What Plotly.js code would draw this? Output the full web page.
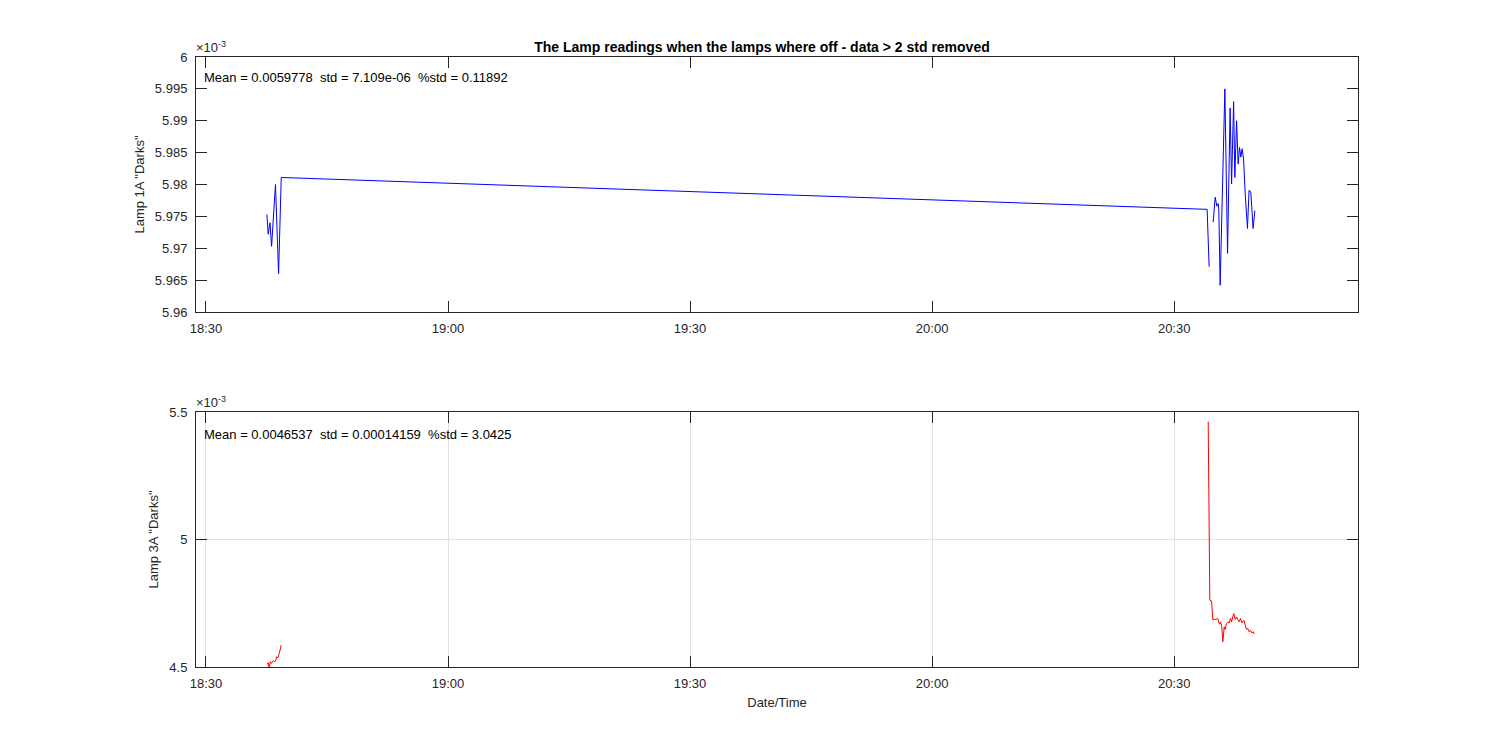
<!DOCTYPE html>
<html>
<head>
<meta charset="utf-8">
<script src="https://cdn.plot.ly/plotly-3.0.1.min.js"></script>
<style>html,body{margin:0;padding:0;background:#fff;}#chart{width:1500px;height:750px;}</style>
</head>
<body>
<div id="chart"></div>
<script>
// ---- data ----
const day = '2000-01-01 ';

// Lamp 1A "Darks" (top panel)
const lamp1aTimes = [
  '18:37:33','18:37:43','18:37:56','18:38:08','18:38:37','18:39:00','18:39:20',
  '20:34:05','20:34:20','20:34:35',
  '20:34:50','20:35:05','20:35:17','20:35:27','20:35:32','20:35:42','20:36:17','20:36:37',
  '20:36:56','20:37:07','20:37:22','20:37:31','20:37:44','20:37:56','20:38:06','20:38:16',
  '20:38:25','20:38:36','20:38:49','20:39:05','20:39:17','20:39:30','20:39:47','20:40:00'
];
const lamp1aValues = [
  0.0059753,0.0059722,0.0059740,0.0059703,0.0059800,0.0059660,0.0059811,
  0.0059761,0.0059671,null,
  0.0059741,0.0059780,0.0059766,0.0059770,0.0059761,0.0059642,0.0059950,0.0059692,
  0.0059920,0.0059801,0.0059930,0.0059811,0.0059900,0.0059832,0.0059858,0.0059843,
  0.0059856,0.0059840,0.0059783,0.0059731,0.0059791,0.0059788,0.0059731,0.0059759
];

// Lamp 3A "Darks" (bottom panel); null = removed samples (gap)
const lamp3aTimes = [
  '18:37:35','18:37:43','18:37:50','18:37:59','18:38:06','18:38:21','18:38:29','18:38:40',
  '18:38:45','18:38:55','18:39:05','18:39:20',
  '19:30:00',
  '20:34:13','20:34:25','20:34:38','20:34:47','20:35:12','20:35:24','20:35:37','20:35:45',
  '20:35:54','20:36:02','20:36:12','20:36:19','20:36:29','20:36:39','20:36:49','20:36:59',
  '20:37:06','20:37:16','20:37:23','20:37:34','20:37:44','20:37:53','20:38:03','20:38:13',
  '20:38:23','20:38:38','20:38:48','20:38:58','20:39:08','20:39:18','20:39:28','20:39:37',
  '20:39:48','20:39:57'
];
const lamp3aValues = [
  0.004510,0.004517,0.004495,0.004521,0.004514,0.004525,0.004520,0.004527,
  0.004540,0.004536,0.004553,0.004586,
  null,
  0.0054621,0.0047617,0.0047590,0.0046863,0.0046875,0.0046902,0.0046680,0.0046770,
  0.0046574,0.0045988,0.0046574,0.0046473,0.0046707,0.0046758,0.0046730,0.0046902,
  0.0046770,0.0046992,0.0047098,0.0046863,0.0046965,0.0046863,0.0046770,0.0046902,
  0.0046730,0.0046836,0.0046602,0.0046473,0.0046512,0.0046379,0.0046445,0.0046340,
  0.0046379,0.0046289
];

// axis ticks / ranges
const xTickLabels = ['18:30','19:00','19:30','20:00','20:30'];
const xRange = ['18:28:46','20:52:47'];
const yTopTicks = [0.00596,0.005965,0.00597,0.005975,0.00598,0.005985,0.00599,0.005995,0.006];
const yTopTickText = ['5.96','5.965','5.97','5.975','5.98','5.985','5.99','5.995','6'];
const yTopRange = [0.00596,0.006];
const yBotTicks = [0.0045,0.005,0.0055];
const yBotTickText = ['4.5','5','5.5'];
const yBotRange = [0.0045,0.0055];

const titleText = 'The Lamp readings when the lamps where off - data > 2 std removed';
const statsTop = 'Mean = 0.0059778  std = 7.109e-06  %std = 0.11892';
const statsBot = 'Mean = 0.0046537  std = 0.00014159  %std = 3.0425';
const yTitleTop = 'Lamp 1A "Darks"';
const yTitleBot = 'Lamp 3A "Darks"';
const xTitle = 'Date/Time';
const expLabel = '\u00d710<sup>-3</sup>';

// ---- drawing ----
const FONT = 'Liberation Sans, Arial, Helvetica, sans-serif';
const AX = '#262626';

const traces = [
  {x: lamp1aTimes.map(t => day + t), y: lamp1aValues, type: 'scatter', mode: 'lines',
   line: {color: '#0000ff', width: 1}, xaxis: 'x', yaxis: 'y', connectgaps: false},
  {x: lamp3aTimes.map(t => day + t), y: lamp3aValues, type: 'scatter', mode: 'lines',
   line: {color: '#ff0000', width: 1}, xaxis: 'x2', yaxis: 'y2', connectgaps: false}
];

function xAxis(anchor, grid, withTitle) {
  const a = {
    type: 'date', anchor: anchor, domain: [0, 1],
    range: xRange.map(t => day + t),
    tickmode: 'array', tickvals: xTickLabels.map(t => day + t), ticktext: xTickLabels,
    ticks: 'inside', ticklen: 11, tickwidth: 1, tickcolor: AX,
    showline: true, linecolor: AX, linewidth: 1, mirror: 'ticks',
    showgrid: grid, gridcolor: '#e1e1e1', gridwidth: 1, zeroline: false,
    tickfont: {family: FONT, size: 13, color: AX}, ticklabelstandoff: 4
  };
  if (withTitle) a.title = {text: xTitle, font: {family: FONT, size: 13, color: AX}, standoff: 8};
  return a;
}
function yAxis(anchor, domain, range, tv, tt, grid, title) {
  return {
    anchor: anchor, domain: domain, range: range,
    tickmode: 'array', tickvals: tv, ticktext: tt,
    ticks: 'inside', ticklen: 11, tickwidth: 1, tickcolor: AX,
    showline: true, linecolor: AX, linewidth: 1, mirror: 'ticks',
    showgrid: grid, gridcolor: '#e1e1e1', gridwidth: 1, zeroline: false,
    tickfont: {family: FONT, size: 13, color: AX}, ticklabelstandoff: 5,
    title: {text: title, font: {family: FONT, size: 13, color: AX}, standoff: 7}
  };
}

const layout = {
  width: 1500, height: 750,
  paper_bgcolor: '#ffffff', plot_bgcolor: '#ffffff',
  margin: {l: 196, r: 142, t: 57, b: 83, pad: 0},
  showlegend: false,
  title: {text: '<b>' + titleText + '</b>', font: {family: FONT, size: 14, color: '#000'},
          x: 0.508, xanchor: 'center', y: 1 - 47/750, yanchor: 'middle'},
  xaxis: xAxis('y', false, false),
  yaxis: yAxis('x', [0.582, 1], yTopRange, yTopTicks, yTopTickText, false, yTitleTop),
  xaxis2: xAxis('y2', true, true),
  yaxis2: yAxis('x2', [0, 0.418], yBotRange, yBotTicks, yBotTickText, true, yTitleBot),
  annotations: [
    {text: expLabel, xref: 'x domain', yref: 'y domain', x: 0, y: 1, xanchor: 'left', yanchor: 'bottom',
     showarrow: false, font: {family: FONT, size: 13, color: AX}, xshift: -2, yshift: 0},
    {text: expLabel, xref: 'x2 domain', yref: 'y2 domain', x: 0, y: 1, xanchor: 'left', yanchor: 'bottom',
     showarrow: false, font: {family: FONT, size: 13, color: AX}, xshift: -2, yshift: 0},
    {text: statsTop, xref: 'x domain', yref: 'y domain', x: 0.005, y: 0.918, xanchor: 'left', yanchor: 'middle',
     showarrow: false, font: {family: FONT, size: 13, color: '#000'}},
    {text: statsBot, xref: 'x2 domain', yref: 'y2 domain', x: 0.005, y: 0.91, xanchor: 'left', yanchor: 'middle',
     showarrow: false, font: {family: FONT, size: 13, color: '#000'}}
  ]
};

Plotly.newPlot('chart', traces, layout, {staticPlot: true, displayModeBar: false});
</script>
</body>
</html>
